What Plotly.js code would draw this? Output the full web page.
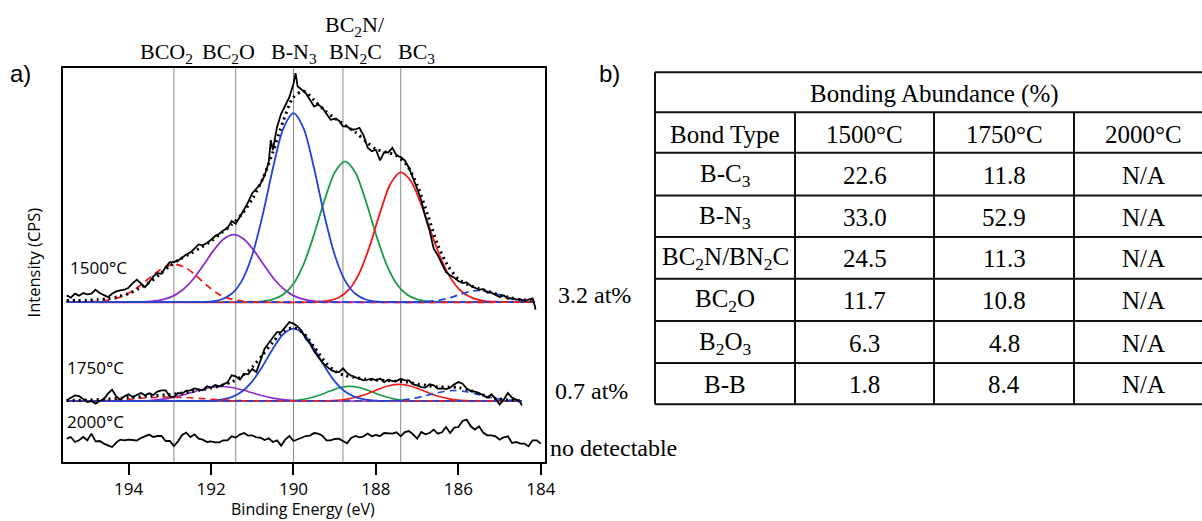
<!DOCTYPE html>
<html>
<head>
<meta charset="utf-8">
<script src="https://cdn.plot.ly/plotly-3.0.1.min.js"></script>
<style>html,body{margin:0;padding:0;background:#fff;}#chart{width:1202px;height:521px;}</style>
</head>
<body>
<div id="chart"></div>
<script>
// ---------------- DATA ----------------
// Raw spectrum 1500°C (binding energy eV, intensity a.u.)
const e1500 = [195.5,195.4,195.3,195.2,195.1,195.0,194.9,194.8,194.7,194.6,194.5,194.4,194.3,194.2,194.1,194.0,193.9,193.8,193.7,193.6,193.5,193.4,193.3,193.2,193.1,193.0,192.9,192.8,192.7,192.6,192.5,192.4,192.3,192.2,192.1,192.0,191.9,191.8,191.7,191.6,191.5,191.4,191.3,191.2,191.1,191.0,190.9,190.8,190.7,190.6,190.55,190.5,190.4,190.3,190.2,190.1,190.0,189.95,189.9,189.8,189.7,189.6,189.5,189.4,189.3,189.2,189.1,189.0,188.9,188.8,188.7,188.6,188.5,188.4,188.3,188.2,188.1,188.0,187.9,187.8,187.7,187.6,187.5,187.4,187.3,187.2,187.1,187.0,186.9,186.8,186.7,186.6,186.5,186.4,186.3,186.2,186.1,186.0,185.9,185.8,185.7,185.6,185.5,185.4,185.3,185.2,185.1,185.0,184.9,184.8,184.7,184.6,184.5,184.4,184.3,184.2,184.15,184.13];
const i1500 = [166.7,164.4,168.4,166.4,169.0,167.7,168.4,172.4,169.0,166.7,165.0,168.4,170.7,171.7,172.4,174.4,179.0,182.4,178.4,175.0,180.0,185.7,189.0,188.4,195.0,200.0,200.0,201.7,204.4,207.7,209.7,213.4,217.7,216.7,219.0,222.4,226.0,228.4,231.7,234.0,241.0,238.4,245.0,252.4,260.0,269.0,273.4,278.4,286.7,300.0,322.0,312.0,335.0,348.4,356.7,365.0,378.4,389.0,376.0,372.7,369.0,362.4,355.7,357.7,354.4,348.4,342.4,343.4,341.7,335.7,335.7,332.4,332.7,334.4,326.7,314.4,311.0,312.4,301.7,310.0,309.7,314.4,306.7,305.0,301.7,294.4,284.4,273.4,261.7,245.0,231.7,213.4,206.7,198.4,190.0,186.7,184.4,181.0,179.0,179.7,176.4,174.4,172.4,173.0,169.4,169.4,167.0,165.0,166.7,163.4,164.0,162.4,163.0,161.0,162.4,163.7,156.7,152.4];

// Envelope fit 1500°C
const eFit1500 = [195.5,195.25,195.0,194.75,194.5,194.25,194.0,193.75,193.5,193.25,193.0,192.75,192.5,192.25,192.0,191.75,191.5,191.25,191.0,190.75,190.5,190.25,190.0,189.75,189.5,189.25,189.0,188.75,188.5,188.25,188.0,187.75,187.5,187.25,187.0,186.75,186.5,186.25,186.0,185.75,185.5,185.25,185.0,184.75,184.5,184.25,184.15];
const iFit1500 = [161.5,161.5,161.8,162.5,163.5,165.5,168.5,173.5,179.5,187.5,196.0,203.0,208.5,214.5,221.0,229.0,237.5,248.0,263.0,283.0,310.0,341.0,365.0,371.0,362.0,352.0,344.0,337.0,330.0,321.0,313.0,310.0,306.5,297.0,277.0,248.0,217.0,196.0,183.0,177.0,173.5,170.5,167.0,164.5,162.5,161.5,161.0];

// Fitted components 1500°C
const eBN1500 = [195.5,192.25,192.0,191.75,191.5,191.25,191.0,190.75,190.5,190.25,190.0,189.75,189.5,189.25,189.0,188.75,188.5,188.25,188.0,187.75,184.15];
const iBN1500 = [160,160.2,160.7,162.6,168.3,181.5,207.1,246.6,293.6,333.3,349.0,333.3,293.6,246.6,207.1,181.5,168.3,162.6,160.7,160.2,160];
const eBC2O1500 = [195.5,193.7,193.45,193.2,192.95,192.7,192.45,192.2,191.95,191.7,191.45,191.2,190.95,190.7,190.45,190.2,189.95,189.7,189.45,189.2,184.15];
const iBC2O1500 = [160,160.2,160.8,162.2,165.5,171.8,182.1,196.1,211.0,222.9,227.4,222.9,211.0,196.1,182.1,171.8,165.5,162.2,160.8,160.2,160];
const eBC2N1500 = [195.5,191.0,190.75,190.5,190.25,190.0,189.75,189.5,189.25,189.0,188.75,188.5,188.25,188.0,187.75,187.5,187.25,187.0,186.75,186.5,184.15];
const iBC2N1500 = [160,160.2,160.8,162.6,167.5,178.4,198.3,227.7,261.6,289.7,300.7,289.7,261.6,227.7,198.3,178.4,167.5,162.6,160.8,160.2,160];
const eBC31500 = [195.5,189.4,189.15,188.9,188.65,188.4,188.15,187.9,187.65,187.4,187.15,186.9,186.65,186.4,186.15,185.9,185.65,185.4,185.15,184.15];
const iBC31500 = [160,160.3,161.4,164.6,172.7,189.3,216.2,249.5,278.2,289.7,280.8,257.3,228.1,201.1,181.7,169.8,163.9,161.3,160.4,160];
const eBCO21500 = [195.5,194.87,194.62,194.37,194.12,193.87,193.62,193.37,193.12,192.87,192.62,192.37,192.12,191.87,191.62,191.37,191.12,184.15];
const iBCO21500 = [160,160.4,161.1,162.9,166.3,172.0,179.8,188.3,195.1,197.7,194.6,186.7,177.3,169.4,164.3,161.7,160.5,160];
const eBB1500 = [195.5,187.25,187.0,186.75,186.5,186.25,186.0,185.75,185.5,185.25,185.0,184.75,184.5,184.25,184.15];
const iBB1500 = [160,160,160.1,160.5,161.6,163.8,167.1,170.3,171.7,170.3,167.1,163.8,161.6,160.5,160.3];

// Raw spectrum 1750°C
const e1750 = [195.5,195.4,195.3,195.2,195.1,195.0,194.9,194.8,194.7,194.6,194.5,194.4,194.3,194.2,194.1,194.0,193.9,193.8,193.7,193.6,193.5,193.4,193.3,193.2,193.1,193.0,192.9,192.8,192.7,192.6,192.5,192.4,192.3,192.2,192.1,192.0,191.9,191.8,191.7,191.6,191.5,191.4,191.3,191.2,191.1,191.0,190.9,190.8,190.7,190.6,190.5,190.4,190.3,190.2,190.1,190.0,189.9,189.8,189.7,189.6,189.5,189.4,189.3,189.2,189.1,189.0,188.9,188.8,188.7,188.6,188.5,188.4,188.3,188.2,188.1,188.0,187.9,187.8,187.7,187.6,187.5,187.4,187.3,187.2,187.1,187.0,186.9,186.8,186.7,186.6,186.5,186.4,186.3,186.2,186.1,186.0,185.9,185.8,185.7,185.6,185.5,185.4,185.3,185.2,185.1,185.0,184.9,184.8,184.7,184.6,184.5,184.46];
const i1750 = [61.7,64.4,66.7,66.0,63.0,60.0,61.0,58.4,61.0,63.0,68.4,72.4,65.7,62.4,65.7,67.7,65.0,67.0,69.0,66.7,68.7,67.0,70.4,71.7,71.7,65.7,65.0,69.0,68.4,71.4,71.7,73.7,73.0,71.7,75.7,74.4,77.0,75.7,77.7,79.7,86.7,85.7,82.4,88.4,87.7,93.0,90.0,101.7,113.4,119.0,125.0,130.0,130.0,135.0,140.0,138.4,135.7,131.0,123.4,118.4,110.7,105.0,99.7,95.7,92.4,90.4,89.7,93.7,89.0,86.4,85.0,83.4,81.7,82.4,83.4,81.7,83.4,80.0,82.4,81.0,81.0,83.4,81.7,81.7,77.7,76.7,75.0,74.4,77.7,76.7,73.4,73.7,73.0,74.4,77.7,80.0,78.4,73.4,71.0,70.4,69.0,66.7,64.4,67.7,63.4,57.4,62.4,69.0,64.4,62.4,59.7,56.7];

// Envelope fit 1750°C
const eFit1750 = [195.5,195.0,194.5,194.0,193.5,193.0,192.5,192.25,192.0,191.75,191.5,191.25,191.0,190.75,190.5,190.25,190.0,189.75,189.5,189.25,189.0,188.75,188.5,188.25,188.0,187.75,187.5,187.25,187.0,186.75,186.5,186.25,186.0,185.75,185.5,185.25,185.0,184.75,184.46];
const iFit1750 = [61.5,62.0,63.0,64.5,66.0,67.5,70.0,72.0,74.0,76.5,80.0,86.0,95.0,107.0,120.0,130.5,134.5,128.5,115.0,101.0,91.0,86.5,84.5,83.0,82.0,81.5,81.0,80.0,78.0,76.5,75.0,75.0,74.5,72.0,68.5,65.0,63.0,62.0,61.5];

// Fitted components 1750°C
const eBN1750 = [195.5,192.25,192.0,191.75,191.5,191.25,191.0,190.75,190.5,190.25,190.0,189.75,189.5,189.25,189.0,188.75,188.5,188.25,188.0,187.75,184.46];
const iBN1750 = [61,61.1,61.4,62.4,64.9,70.5,80.7,95.8,113.3,127.8,133.4,127.8,113.3,95.8,80.7,70.5,64.9,62.4,61.4,61.1,61];
const eBC2O1750 = [195.5,194.0,193.75,193.5,193.25,193.0,192.75,192.5,192.25,192.0,191.75,191.5,191.25,191.0,190.75,190.5,190.25,190.0,189.75,189.5,184.46];
const iBC2O1750 = [61,61.1,61.25,61.6,62.5,63.9,66.2,69.2,72.2,74.6,75.5,74.6,72.2,69.2,66.2,63.9,62.5,61.6,61.25,61.1,61];
const eBC2N1750 = [195.5,190.38,190.13,189.88,189.63,189.38,189.13,188.88,188.63,188.38,188.13,187.88,187.63,187.38,187.13,186.88,184.46];
const iBC2N1750 = [61,61.1,61.35,62.1,63.8,66.8,70.7,74.3,75.7,74.3,70.7,66.8,63.8,62.1,61.35,61.1,61];
const eBC31750 = [195.5,189.19,188.94,188.69,188.44,188.19,187.94,187.69,187.44,187.19,186.94,186.69,186.44,186.19,185.94,185.69,184.46];
const iBC31750 = [61,61.2,61.7,62.9,65.2,68.6,72.8,76.3,77.7,76.3,72.8,68.6,65.2,62.9,61.7,61.2,61];
const eBCO21750 = [195.5,195.0,194.6,194.2,193.8,193.4,193.0,192.6,192.2,191.8,191.4,191.0,190.6,184.46];
const iBCO21750 = [61.1,61.2,61.5,62.3,63.4,64.5,65.0,64.5,63.4,62.3,61.5,61.2,61.05,61];
const eBB1750 = [195.5,187.85,187.6,187.35,187.1,186.85,186.6,186.35,186.1,185.85,185.6,185.35,185.1,184.85,184.6,184.46];
const iBB1750 = [61,61.2,61.5,62.2,63.6,65.8,68.4,70.6,71.5,70.6,68.4,65.8,63.6,62.2,61.5,61.3];

// Raw spectrum 2000°C
const e2000 = [195.5,195.4,195.3,195.2,195.1,195.0,194.9,194.8,194.7,194.6,194.5,194.4,194.3,194.2,194.1,194.0,193.9,193.8,193.7,193.6,193.5,193.4,193.3,193.2,193.1,193.0,192.9,192.8,192.7,192.6,192.5,192.4,192.3,192.2,192.1,192.0,191.9,191.8,191.7,191.6,191.5,191.4,191.3,191.2,191.1,191.0,190.9,190.8,190.7,190.6,190.5,190.4,190.3,190.2,190.1,190.0,189.9,189.8,189.7,189.6,189.5,189.4,189.3,189.2,189.1,189.0,188.9,188.8,188.7,188.6,188.5,188.4,188.3,188.2,188.1,188.0,187.9,187.8,187.7,187.6,187.5,187.4,187.3,187.2,187.1,187.0,186.9,186.8,186.7,186.6,186.5,186.4,186.3,186.2,186.1,186.0,185.9,185.8,185.7,185.6,185.5,185.4,185.3,185.2,185.1,185.0,184.9,184.8,184.7,184.6,184.5,184.4,184.3,184.2,184.1,184.0];
const i2000 = [23.4,25.0,20.0,21.7,25.0,21.7,28.4,20.7,21.0,18.4,16.7,15.0,19.4,22.4,21.7,22.4,22.0,21.4,24.0,26.0,27.4,25.0,26.0,26.0,21.0,21.0,16.0,20.7,27.0,29.4,25.0,27.7,23.4,22.4,20.0,20.7,19.7,19.7,21.7,21.7,25.7,24.4,27.4,29.0,26.4,26.7,24.7,24.4,22.0,23.7,20.0,21.7,16.4,22.4,26.0,21.0,22.7,24.4,26.0,26.4,29.0,28.4,26.4,21.7,21.7,23.0,23.4,21.0,18.7,24.0,26.0,24.7,25.7,28.4,25.7,27.0,26.0,29.0,29.0,28.4,29.7,25.7,30.0,31.0,27.7,23.4,30.0,27.7,29.0,32.4,28.4,29.7,35.0,29.0,34.4,35.0,41.0,42.4,35.7,32.4,35.7,29.4,26.7,26.7,25.7,22.4,24.7,25.7,19.0,20.0,18.4,18.4,15.7,21.7,21.7,18.4];

// Reference peak positions and labels
const peakPositions = [192.9, 191.4, 190.0, 188.8, 187.4];
const xTickVals = [194, 192, 190, 188, 186, 184];
const xTickText = ['194', '192', '190', '188', '186', '184'];
const sampleLabels = ['1500°C', '1750°C', '2000°C'];
const atomicLabels = ['3.2 at%', '0.7 at%', 'no detectable'];

// Table
const tableTitle = 'Bonding Abundance (%)';
const tableHeader = ['Bond Type', '1500°C', '1750°C', '2000°C'];
const bondTypes = ['B-C<sub>3</sub>', 'B-N<sub>3</sub>', 'BC<sub>2</sub>N/BN<sub>2</sub>C', 'BC<sub>2</sub>O', 'B<sub>2</sub>O<sub>3</sub>', 'B-B'];
const abundance1500 = [22.6, 33.0, 24.5, 11.7, 6.3, 1.8];
const abundance1750 = [11.8, 52.9, 11.3, 10.8, 4.8, 8.4];
const abundance2000 = ['N/A', 'N/A', 'N/A', 'N/A', 'N/A', 'N/A'];

// ---------------- STYLE / LAYOUT ----------------
const BLUE = '#2143d8', GREEN = '#1b9a45', RED = '#f01c1c', PURPLE = '#8a2ccf';
const X0 = 63, X1 = 545, Y0 = 67.5, Y1 = 461.7;
const fx = px => (px - X0) / (X1 - X0);
const fy = py => (Y1 - py) / (Y1 - Y0);

function line(x, y, color, width, dash) {
  return {x: x, y: y, type: 'scatter', mode: 'lines', hoverinfo: 'skip',
    line: {color: color, width: width, dash: dash || 'solid', shape: 'spline', smoothing: 0.8}};
}
function raw(x, y) {
  return {x: x, y: y, type: 'scatter', mode: 'lines', hoverinfo: 'skip',
    line: {color: '#000', width: 1.8, shape: 'linear'}};
}

const traces = [
  line(eBC2O1500, iBC2O1500, PURPLE, 1.8),
  line(eBC2N1500, iBC2N1500, GREEN, 1.8),
  line(eBC31500, iBC31500, RED, 1.8),
  line(eBN1500, iBN1500, BLUE, 1.8),
  line(eBCO21500, iBCO21500, RED, 1.8, '7px,5px'),
  line(eBB1500, iBB1500, BLUE, 1.8, '7px,5px'),
  line(eFit1500, iFit1500, '#000', 3, '2px,4px'),
  raw(e1500, i1500),
  line(eBC2O1750, iBC2O1750, PURPLE, 1.6),
  line(eBC2N1750, iBC2N1750, GREEN, 1.6),
  line(eBC31750, iBC31750, RED, 1.6),
  line(eBN1750, iBN1750, BLUE, 1.8),
  line(eBCO21750, iBCO21750, RED, 1.6, '7px,5px'),
  line(eBB1750, iBB1750, BLUE, 1.6, '7px,5px'),
  line(eFit1750, iFit1750, '#000', 3, '2px,4px'),
  raw(e1750, i1750),
  raw(e2000, i2000)
];

const shapes = peakPositions.map(p => ({type: 'line', xref: 'x', yref: 'paper', x0: p, x1: p, y0: 0, y1: 1,
  line: {color: '#8a8a8a', width: 1}, layer: 'below'}));

const annotations = [];
function ann(text, px, py, size, family, extra) {
  annotations.push(Object.assign({text: text, xref: 'paper', yref: 'paper', x: fx(px), y: fy(py),
    showarrow: false, xanchor: 'center', yanchor: 'middle',
    font: {family: family, size: size, color: '#000'}}, extra || {}));
}
const SERIF = 'Liberation Serif, Times New Roman, serif';
const SANS = 'Open Sans, Arial, sans-serif';
const ARIAL = 'Liberation Sans, Arial, sans-serif';

// panel labels
ann('a)', 20, 73, 24, ARIAL);
ann('b)', 609, 73, 24, ARIAL);
// peak labels
const peakLabelX = [166, 228, 294, 355, 416];
const peakLabelText = ['BCO<sub>2</sub>', 'BC<sub>2</sub>O', 'B-N<sub>3</sub>', 'BN<sub>2</sub>C', 'BC<sub>3</sub>'];
peakLabelText.forEach((t, k) => ann(t, peakLabelX[k], 52, 22, SERIF));
ann('BC<sub>2</sub>N/', 355, 25, 22, SERIF);
// sample labels
ann(sampleLabels[0], 68, 267, 17, SANS, {xanchor: 'left'});
ann(sampleLabels[1], 65, 367.5, 17, SANS, {xanchor: 'left'});
ann(sampleLabels[2], 65, 421, 17, SANS, {xanchor: 'left'});
// at% labels
ann(atomicLabels[0], 556, 295, 24, SERIF, {xanchor: 'left'});
ann(atomicLabels[1], 553, 391, 24, SERIF, {xanchor: 'left'});
ann(atomicLabels[2], 548, 448, 24, SERIF, {xanchor: 'left'});
// axis titles
ann('Intensity (CPS)', 33, 262, 16.5, SANS, {textangle: -90});
ann('Binding Energy (eV)', 303, 509, 16, SANS);

// table geometry
const colX = [655, 795, 934, 1074, 1213];
const rowY = [71.7, 111.7, 152.3, 195, 236.7, 278.3, 320.7, 362.7, 404];
rowY.forEach(y => shapes.push({type: 'line', xref: 'paper', yref: 'paper', x0: fx(colX[0]), x1: fx(colX[4]), y0: fy(y), y1: fy(y),
  line: {color: '#111', width: 2}}));
colX.forEach((x, k) => shapes.push({type: 'line', xref: 'paper', yref: 'paper', x0: fx(x), x1: fx(x),
  y0: fy(k === 0 ? rowY[0] : rowY[1]), y1: fy(rowY[rowY.length - 1]), line: {color: '#111', width: 2}}));

const TS = 25;
ann(tableTitle, (colX[0] + colX[4]) / 2, (rowY[0] + rowY[1]) / 2 + 2, TS, SERIF);
tableHeader.forEach((h, c) => ann(h, (colX[c] + colX[c + 1]) / 2, (rowY[1] + rowY[2]) / 2 + 2, TS, SERIF));
bondTypes.forEach((b, r) => {
  const cy = (rowY[r + 2] + rowY[r + 3]) / 2 + 1;
  ann(b, (colX[0] + colX[1]) / 2, cy, TS, SERIF);
  ann(abundance1500[r].toFixed(1), (colX[1] + colX[2]) / 2, cy, TS, SERIF);
  ann(abundance1750[r].toFixed(1), (colX[2] + colX[3]) / 2, cy, TS, SERIF);
  ann(abundance2000[r], (colX[3] + colX[4]) / 2, cy, TS, SERIF);
});

const layout = {
  width: 1202, height: 521,
  margin: {l: X0, r: 1202 - X1, t: Y0, b: 521 - Y1, pad: 0},
  paper_bgcolor: '#fff', plot_bgcolor: '#fff',
  showlegend: false,
  xaxis: {range: [195.59, 183.9], tickvals: xTickVals, ticktext: xTickText, ticks: 'outside', ticklen: 11, tickwidth: 2,
    tickcolor: '#000', showline: true, linewidth: 2, linecolor: '#000', mirror: true, showgrid: false, zeroline: false,
    tickfont: {family: SANS, size: 17, color: '#000'}},
  yaxis: {range: [0, 394.2], showticklabels: false, ticks: '', showline: true, linewidth: 2, linecolor: '#000', mirror: true,
    showgrid: false, zeroline: false},
  shapes: shapes,
  annotations: annotations
};

Plotly.newPlot('chart', traces, layout, {staticPlot: true, displayModeBar: false});
</script>
</body>
</html>
